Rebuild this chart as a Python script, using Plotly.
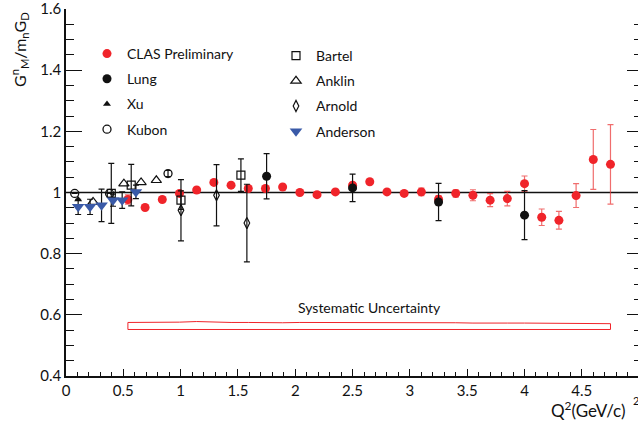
import plotly.graph_objects as go

# ---------------- data ----------------
clas_x = [0.54, 0.69, 0.84, 0.99, 1.14, 1.29, 1.44, 1.59, 1.74, 1.89, 2.04, 2.19, 2.35, 2.50, 2.65,
          2.80, 2.95, 3.10, 3.25, 3.40, 3.55, 3.70, 3.85, 4.00, 4.15, 4.30, 4.45, 4.60, 4.75]
clas_y = [0.977, 0.951, 0.977, 0.997, 1.008, 1.033, 1.024, 1.013, 1.013, 1.018, 1.000, 0.993, 1.002,
          1.024, 1.035, 1.002, 0.997, 1.002, 0.978, 0.997, 0.991, 0.975, 0.980, 1.029, 0.919, 0.909,
          0.990, 1.108, 1.092]
clas_err = [0.015, 0.004, 0.004, 0.004, 0.004, 0.004, 0.004, 0.004, 0.004, 0.004, 0.004, 0.004, 0.005,
            0.006, 0.006, 0.006, 0.007, 0.012, 0.012, 0.012, 0.018, 0.021, 0.024, 0.025, 0.027, 0.029,
            0.039, 0.098, 0.130]
sys_top = [0.023, 0.023, 0.023, 0.024, 0.026, 0.024, 0.023, 0.023, 0.022, 0.022, 0.023, 0.023, 0.023,
           0.024, 0.023, 0.023, 0.023, 0.023, 0.022, 0.022, 0.021, 0.022, 0.021, 0.021, 0.021, 0.021,
           0.020, 0.020, 0.019]
sys_base = 0.552

lung_x = [1.75, 2.50, 3.25, 4.00]
lung_y = [1.053, 1.015, 0.969, 0.926]
lung_err = [0.074, 0.045, 0.061, 0.080]

xu_x = [0.106]
xu_y = [0.977]

kubon_x = [0.076, 0.38, 0.89]
kubon_y = [0.997, 0.997, 1.062]
kubon_err = [0.0, 0.0, 0.010]

bartel_x = [0.395, 0.569, 1.003, 1.526]
bartel_y = [0.997, 1.024, 0.975, 1.057]
bartel_err = [0.098, 0.068, 0.030, 0.053]

anklin_x = [0.236, 0.505, 0.655, 0.788]
anklin_y = [0.969, 1.029, 1.033, 1.040]

arnold_x = [1.003, 1.313, 1.578]
arnold_y = [0.942, 0.991, 0.900]
arnold_err = [0.100, 0.100, 0.127]

anderson_x = [0.106, 0.21, 0.31, 0.41, 0.49, 0.61]
anderson_y = [0.953, 0.953, 0.958, 0.975, 0.975, 1.002]
anderson_err = [0.025, 0.025, 0.053, 0.020, 0.027, 0.022]

# ---------------- styles ----------------
FONT = "Lato"
RED = "#f0242a"
BLUE = "#3a5aa8"
BLACK = "#111111"

W, H = 638, 421
ML, MR, MT, MB = 66, 0, 9, 45
PW = W - ML - MR
PH = H - MT - MB
XMAX = 4.99

fig = go.Figure()

def eb(arr, color, width=1.2, thick=3):
    return dict(type="data", array=arr, visible=True, color=color, thickness=width, width=thick)

# systematic band outline
band_x = clas_x + clas_x[::-1] + [clas_x[0]]
band_y = [sys_base + s for s in sys_top] + [sys_base] * len(clas_x) + [sys_base + sys_top[0]]
fig.add_trace(go.Scatter(x=band_x, y=band_y, mode="lines", line=dict(color=RED, width=1),
                         showlegend=False, hoverinfo="skip"))

# legend 1 traces
fig.add_trace(go.Scatter(x=clas_x, y=clas_y, mode="markers", name="CLAS Preliminary",
                         marker=dict(symbol="circle", size=9, color=RED),
                         error_y=eb(clas_err, "rgba(235,60,60,0.75)"),
                         legend="legend", legendgroup="g1"))
fig.add_trace(go.Scatter(x=lung_x, y=lung_y, mode="markers", name="Lung",
                         marker=dict(symbol="circle", size=9, color=BLACK),
                         error_y=eb(lung_err, BLACK),
                         legend="legend", legendgroup="g2"))
fig.add_trace(go.Scatter(x=xu_x, y=xu_y, mode="markers", name="Xu",
                         marker=dict(symbol="triangle-up", size=7, color=BLACK),
                         legend="legend", legendgroup="g3"))
fig.add_trace(go.Scatter(x=kubon_x, y=kubon_y, mode="markers", name="Kubon",
                         marker=dict(symbol="circle-open", size=8, color=BLACK, line=dict(width=1.3)),
                         error_y=eb(kubon_err, BLACK),
                         legend="legend", legendgroup="g4"))

# legend 2 traces
fig.add_trace(go.Scatter(x=bartel_x, y=bartel_y, mode="markers", name="Bartel",
                         marker=dict(symbol="square-open", size=8, color=BLACK, line=dict(width=1.2)),
                         error_y=eb(bartel_err, BLACK),
                         legend="legend2", legendgroup="h1"))
fig.add_trace(go.Scatter(x=anklin_x, y=anklin_y, mode="markers", name="Anklin",
                         marker=dict(symbol="triangle-up-open", size=9, color=BLACK, line=dict(width=1.2)),
                         legend="legend2", legendgroup="h2"))
fig.add_trace(go.Scatter(x=arnold_x, y=arnold_y, mode="markers", name="Arnold",
                         marker=dict(symbol="diamond-tall-open", size=8, color=BLACK, line=dict(width=1.2)),
                         error_y=eb(arnold_err, BLACK),
                         legend="legend2", legendgroup="h3"))
fig.add_trace(go.Scatter(x=anderson_x, y=anderson_y, mode="markers", name="Anderson",
                         marker=dict(symbol="triangle-down", size=11, color=BLUE),
                         error_y=eb(anderson_err, BLACK),
                         legend="legend2", legendgroup="h4"))

# dummy trace for right-side ticks axis
fig.add_trace(go.Scatter(x=[None], y=[None], yaxis="y2", showlegend=False, hoverinfo="skip"))

# y = 1 reference line
fig.add_shape(type="line", xref="paper", x0=0, x1=1, yref="y", y0=1, y1=1,
              line=dict(color=BLACK, width=1.5), layer="below")

def px2paper_x(px):
    return (px - ML) / PW

def py2paper_y(py):
    return 1 - (py - MT) / PH

annotations = [
    dict(text="Systematic Uncertainty", x=2.645, y=0.624, xref="x", yref="y", showarrow=False,
         font=dict(family=FONT, size=14, color=BLACK)),
    dict(text="Q<sup>2</sup>(GeV/c)", x=px2paper_x(627), y=py2paper_y(409), xref="paper", yref="paper",
         showarrow=False, xanchor="right", yanchor="middle", font=dict(family=FONT, size=17, color=BLACK)),
    dict(text="2", x=px2paper_x(636), y=py2paper_y(400), xref="paper", yref="paper",
         showarrow=False, xanchor="center", yanchor="middle", font=dict(family=FONT, size=11, color=BLACK)),
    dict(text="5", x=5, y=py2paper_y(389), xref="x", yref="paper", showarrow=False,
         xanchor="center", yanchor="middle", font=dict(family=FONT, size=15, color=BLACK)),
    dict(text="G<sup>n</sup><sub>M</sub>/m<sub>n</sub>G<sub>D</sub>", x=px2paper_x(20), y=py2paper_y(50),
         xref="paper", yref="paper", showarrow=False, textangle=-90, xanchor="center", yanchor="middle",
         font=dict(family=FONT, size=16, color=BLACK)),
]

legend_common = dict(font=dict(family=FONT, size=14, color=BLACK), bgcolor="rgba(0,0,0,0)",
                     borderwidth=0, traceorder="grouped", tracegroupgap=4, xanchor="left", yanchor="top",
                     itemclick=False, itemdoubleclick=False)

fig.update_layout(
    width=W, height=H,
    margin=dict(l=ML, r=MR, t=MT, b=MB, pad=0),
    paper_bgcolor="white", plot_bgcolor="white",
    font=dict(family=FONT, size=15, color=BLACK),
    showlegend=True,
    legend=dict(x=px2paper_x(87), y=py2paper_y(38), **legend_common),
    legend2=dict(x=px2paper_x(276), y=py2paper_y(40), **legend_common),
    xaxis=dict(range=[0, XMAX], tick0=0, dtick=0.5, ticks="inside", ticklen=7, tickwidth=1.2,
               tickcolor=BLACK, showline=True, linecolor=BLACK, linewidth=1.5, showgrid=False,
               zeroline=False, tickfont=dict(family=FONT, size=15, color=BLACK),
               ticklabeloverflow="allow",
               minor=dict(dtick=0.1, ticks="inside", ticklen=4, tickwidth=1, tickcolor=BLACK, showgrid=False)),
    yaxis=dict(range=[0.3999, 1.6001], tick0=0.4, dtick=0.2, ticks="inside", ticklen=16, tickwidth=1.2,
               tickcolor=BLACK, showline=True, linecolor=BLACK, linewidth=1.5, showgrid=False,
               zeroline=False, tickfont=dict(family=FONT, size=15, color=BLACK),
               ticklabeloverflow="allow",
               minor=dict(dtick=0.05, ticks="inside", ticklen=8, tickwidth=1, tickcolor=BLACK, showgrid=False)),
    yaxis2=dict(range=[0.3999, 1.6001], overlaying="y", side="right", tick0=0.4, dtick=0.2, ticks="inside",
                ticklen=11, tickwidth=1.2, tickcolor=BLACK, showline=False, showgrid=False, zeroline=False,
                showticklabels=False,
                minor=dict(dtick=0.05, ticks="inside", ticklen=4, tickwidth=1, tickcolor=BLACK, showgrid=False)),
    annotations=annotations,
)

fig.write_html("out.html", config={"displayModeBar": False},
               post_script="document.body.style.margin='0';document.body.style.overflow='hidden';")
